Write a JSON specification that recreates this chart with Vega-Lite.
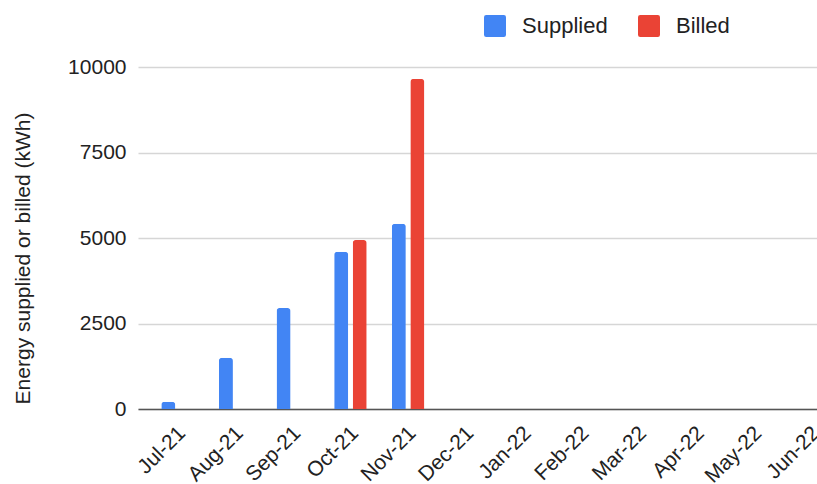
{
  "$schema": "https://vega.github.io/schema/vega-lite/v6.json",
  "width": 679,
  "height": 342,
  "autosize": {"type": "none"},
  "padding": {"left": 138, "top": 67, "right": 0, "bottom": 75},
  "background": "white",
  "config": {
    "view": {"stroke": null},
    "font": "Liberation Sans"
  },
  "data": {
    "values": [
      {"month": "Jul-21", "series": "Supplied", "kwh": 210},
      {"month": "Aug-21", "series": "Supplied", "kwh": 1500},
      {"month": "Sep-21", "series": "Supplied", "kwh": 2950},
      {"month": "Oct-21", "series": "Supplied", "kwh": 4600},
      {"month": "Oct-21", "series": "Billed", "kwh": 4940},
      {"month": "Nov-21", "series": "Supplied", "kwh": 5420},
      {"month": "Nov-21", "series": "Billed", "kwh": 9650}
    ]
  },
  "mark": {"type": "bar", "cornerRadiusTopLeft": 3, "cornerRadiusTopRight": 3},
  "encoding": {
    "x": {
      "field": "month",
      "type": "nominal",
      "scale": {
        "domain": ["Jul-21", "Aug-21", "Sep-21", "Oct-21", "Nov-21", "Dec-21", "Jan-22", "Feb-22", "Mar-22", "Apr-22", "May-22", "Jun-22"],
        "range": [0, 713],
        "paddingInner": 0,
        "paddingOuter": 0.186
      },
      "axis": {
        "title": null,
        "labelAngle": -45,
        "labelAlign": "right",
        "labelBaseline": "top",
        "labelPadding": 13,
        "labelOffset": -3,
        "labelFontSize": 21,
        "labelColor": "#222222",
        "ticks": false,
        "tickSize": 0,
        "domainColor": "#555555",
        "domainWidth": 1.5,
        "grid": false,
        "labelOverlap": false,
        "labelFlush": false
      }
    },
    "xOffset": {
      "field": "series",
      "type": "nominal",
      "scale": {"domain": ["Supplied", "Billed"], "paddingInner": 0.243, "paddingOuter": 0.679}
    },
    "y": {
      "field": "kwh",
      "type": "quantitative",
      "scale": {"domain": [0, 10000], "nice": false},
      "axis": {
        "title": "Energy supplied or billed (kWh)",
        "titleFontSize": 21,
        "titleFontWeight": "normal",
        "titleColor": "#222222",
        "titleAngle": -90,
        "titleX": -115,
        "titleY": 191,
        "titleAlign": "center",
        "titleBaseline": "middle",
        "values": [0, 2500, 5000, 7500, 10000],
        "format": "d",
        "labelFontSize": 21,
        "labelColor": "#222222",
        "labelPadding": 12,
        "ticks": false,
        "tickSize": 0,
        "domain": false,
        "gridColor": "#d6d6d6",
        "gridWidth": 1.5
      }
    },
    "color": {
      "field": "series",
      "type": "nominal",
      "scale": {"domain": ["Supplied", "Billed"], "range": ["#4285F4", "#EA4335"]},
      "legend": {
        "title": null,
        "orient": "none",
        "direction": "horizontal",
        "legendX": 346,
        "legendY": -52,
        "padding": 0,
        "symbolType": "M-1,-0.8Q-1,-1,-0.8,-1L0.8,-1Q1,-1,1,-0.8L1,0.8Q1,1,0.8,1L-0.8,1Q-1,1,-1,0.8Z",
        "symbolSize": 484,
        "symbolStrokeWidth": 0,
        "symbolOpacity": 1,
        "labelFontSize": 22,
        "labelColor": "#222222",
        "labelOffset": 16,
        "columnPadding": 30
      }
    }
  }
}
